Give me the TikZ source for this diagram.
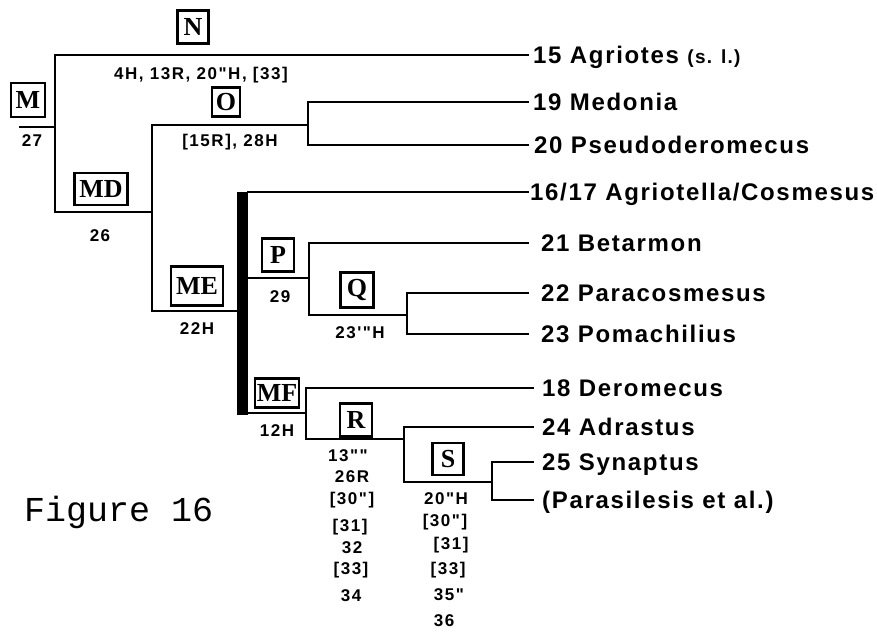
\documentclass[tikz,border=0pt]{standalone}
\usepackage{fontspec}
\newfontfamily\taxfont[LetterSpace=7]{Liberation Sans Bold}
\newfontfamily\numfont[LetterSpace=9]{Liberation Sans Bold}
\newfontfamily\boxfont{Liberation Serif Bold}
\newfontfamily\figfont{Liberation Mono}
\begin{document}
\begin{tikzpicture}[x=1pt,y=-1pt,
  br/.style={line width=2.6pt, line join=miter, line cap=rect},
  clade/.style={draw, line width=2.8pt, inner sep=1pt, font=\boxfont\fontsize{26}{26}\selectfont},
  tax/.style={anchor=base west, inner sep=0pt, yshift=-8.6pt, font=\taxfont\fontsize{24}{26}\selectfont},
  num/.style={anchor=base, inner sep=0pt, yshift=-6pt, font=\numfont\fontsize{17}{18}\selectfont}
]
\useasboundingbox (0,0) rectangle (877,633);

% branch coordinates
\coordinate (m0) at (20,127);
\coordinate (m1) at (55,127);
\coordinate (nA) at (55,55);
\coordinate (mdA) at (55,212);
\coordinate (mdB) at (152,212);
\coordinate (oA) at (152,125);
\coordinate (oB) at (308,125);
\coordinate (oT) at (308,102);
\coordinate (oU) at (308,145);
\coordinate (meA) at (152,311);
\coordinate (meB) at (237,311);
\coordinate (barT) at (248,192);
\coordinate (pA) at (248,278);
\coordinate (pB) at (309,278);
\coordinate (pT) at (309,243);
\coordinate (pU) at (309,315);
\coordinate (qB) at (407,315);
\coordinate (qT) at (407,293);
\coordinate (qU) at (407,334);
\coordinate (mfA) at (248,413);
\coordinate (mfB) at (306,413);
\coordinate (mfT) at (306,388);
\coordinate (mfU) at (306,439);
\coordinate (rB) at (404,439);
\coordinate (rT) at (404,427);
\coordinate (rU) at (404,482);
\coordinate (sB) at (492,482);
\coordinate (sT) at (492,462);
\coordinate (sU) at (492,500);
% line ends
\coordinate (e15) at (528,55);
\coordinate (e19) at (528,102);
\coordinate (e20) at (528,145);
\coordinate (e16) at (528,192);
\coordinate (e21) at (528,243);
\coordinate (e22) at (528,293);
\coordinate (e23) at (528,334);
\coordinate (e18) at (533,388);
\coordinate (e24) at (533,427);
\coordinate (e25) at (533,462);
\coordinate (eP) at (533,500);

% thick bar
\node[fill=black, inner sep=0pt, minimum width=11pt, minimum height=223pt] (bar) at (242.5,303.5) {};

% branches
\draw[br] (m0) -- (m1);
\draw[br] (e15) -- (nA) -- (mdA) -- (mdB);
\draw[br] (oA) -- (meA) -- (meB);
\draw[br] (oA) -- (oB);
\draw[br] (e19) -- (oT) -- (oU) -- (e20);
\draw[br] (barT) -- (e16);
\draw[br] (pA) -- (pB);
\draw[br] (e21) -- (pT) -- (pU) -- (qB);
\draw[br] (e22) -- (qT) -- (qU) -- (e23);
\draw[br] (mfA) -- (mfB);
\draw[br] (e18) -- (mfT) -- (mfU) -- (rB);
\draw[br] (e24) -- (rT) -- (rU) -- (sB);
\draw[br] (e25) -- (sT) -- (sU) -- (eP);

% clade boxes
\node[clade, minimum width=34pt, minimum height=34pt] (M) at (28,100) {M};
\node[clade, minimum width=31pt, minimum height=33pt] (N) at (193,27) {N};
\node[clade, minimum width=28pt, minimum height=29pt] (O) at (226,102) {O};
\node[clade, minimum width=53pt, minimum height=32pt] (MD) at (101,189) {MD};
\node[clade, minimum width=52pt, minimum height=39pt] (ME) at (197,286) {ME};
\node[clade, minimum width=32pt, minimum height=33pt] (P) at (278,255) {P};
\node[clade, minimum width=33pt, minimum height=35pt] (Q) at (357,290) {Q};
\node[clade, minimum width=44pt, minimum height=29pt] (MF) at (277,393) {MF};
\node[clade, minimum width=32pt, minimum height=33pt] (R) at (356,420) {R};
\node[clade, minimum width=31pt, minimum height=32pt] (S) at (448,459) {S};

% taxa
\node[tax] (t15) at ([xshift=5pt]e15) {15 Agriotes {\fontsize{19}{20}\selectfont(s. l.)}};
\node[tax] (t19) at ([xshift=5pt]e19) {19 Medonia};
\node[tax] (t20) at ([xshift=6pt]e20) {20 Pseudoderomecus};
\node[tax] (t16) at ([xshift=2pt]e16) {16/17 Agriotella/Cosmesus};
\node[tax] (t21) at ([xshift=13pt]e21) {21 Betarmon};
\node[tax] (t22) at ([xshift=13pt]e22) {22 Paracosmesus};
\node[tax] (t23) at ([xshift=13pt]e23) {23 Pomachilius};
\node[tax] (t18) at ([xshift=9pt]e18) {18 Deromecus};
\node[tax] (t24) at ([xshift=9pt]e24) {24 Adrastus};
\node[tax] (t25) at ([xshift=9pt]e25) {25 Synaptus};
\node[tax] (tP) at ([xshift=9pt]eP) {(Parasilesis et al.)};

% character labels
\node[num] (c27) at (32,140) {27};
\node[num] (cN) at (201,73) {4H, 13R, 20"H, [33]};
\node[num] (cO) at (230,140) {[15R], 28H};
\node[num] (c26) at (100,235) {26};
\node[num] (c22) at (197,328) {22H};
\node[num] (c29) at (280,296) {29};
\node[num] (c23) at (360,332) {23'"H};
\node[num] (c12) at (277,430) {12H};
% R column
\node[num] (r1) at (348,455) {13""};
\node[num] (r2) at (352,476) {26R};
\node[num] (r3) at (352,498) {[30"]};
\node[num] (r4) at (350,525) {[31]};
\node[num] (r5) at (352,547) {32};
\node[num] (r6) at (351,568) {[33]};
\node[num] (r7) at (351,595) {34};
% S column
\node[num] (s1) at (446,498) {20"H};
\node[num] (s2) at (445,520) {[30"]};
\node[num] (s3) at (451,543) {[31]};
\node[num] (s4) at (448,568) {[33]};
\node[num] (s5) at (449,594) {35"};
\node[num] (s6) at (444,620) {36};

% caption
\node[anchor=base west, inner sep=0pt, font=\figfont\fontsize{35}{35}\selectfont] (fig) at (24,521) {Figure 16};
\end{tikzpicture}
\end{document}
